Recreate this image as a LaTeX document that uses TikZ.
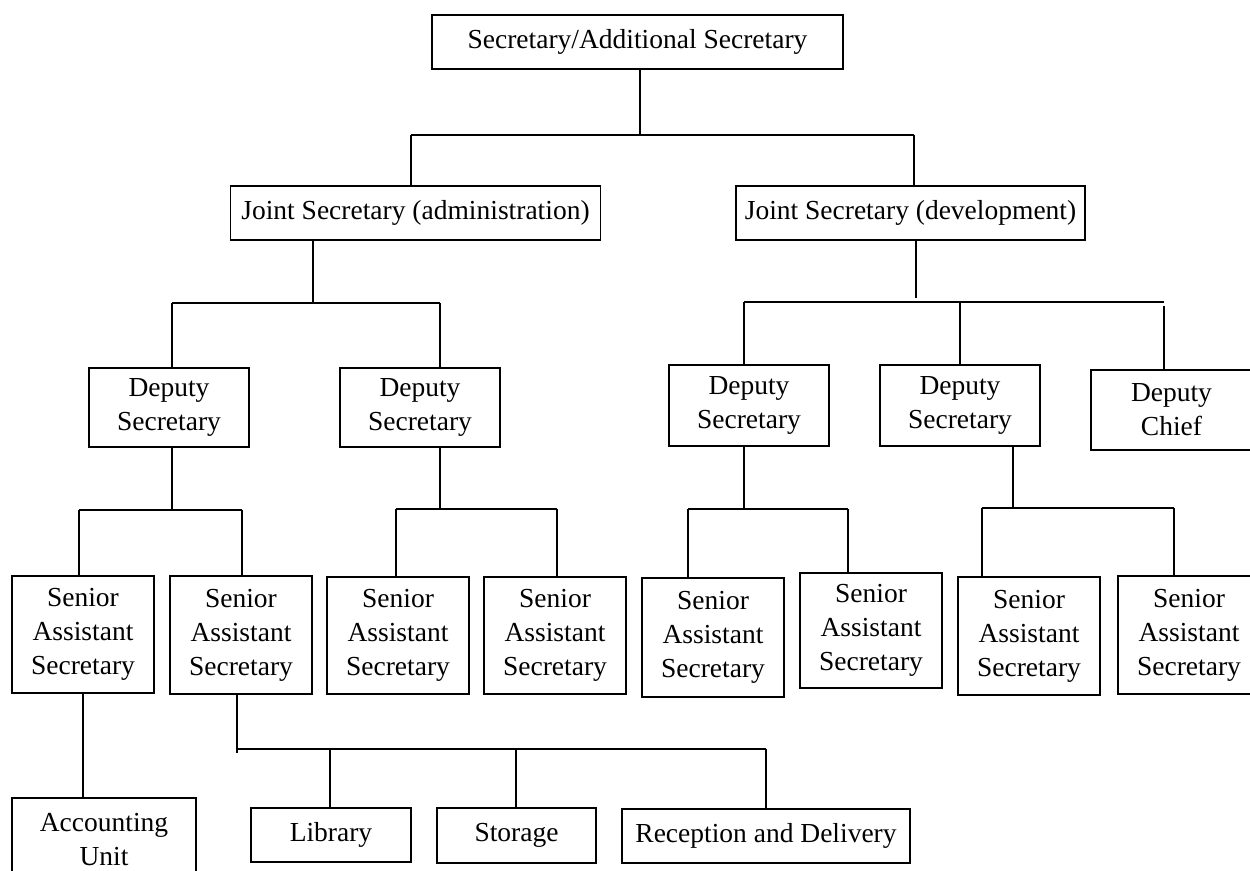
\documentclass[tikz,border=0pt]{standalone}
\usepackage{fontspec}
\setmainfont{Liberation Serif}
\begin{document}
\begin{tikzpicture}[x=1pt,y=-1pt,
  box/.style={draw, line width=1.8pt, inner sep=0pt, align=center,
    font={\fontsize{27.5}{34}\selectfont}},
  link/.style={line width=1.6pt}]
\useasboundingbox (0,0) rectangle (1250,870);
\clip (0,0) rectangle (1250,870);

% ---- boxes ----
\node[box, minimum width=411, minimum height=54] (top) at (637.5,42) {Secretary/Additional Secretary};
\node[box, minimum width=370, minimum height=54] (admin) at (415.5,213) {Joint Secretary (administration)};
\node[box, minimum width=349, minimum height=54] (dev) at (910.5,213) {Joint Secretary (development)};

\node[box, minimum width=160, minimum height=79] (dep1) at (169,407.5) {Deputy\\Secretary};
\node[box, minimum width=160, minimum height=79] (dep2) at (420,407.5) {Deputy\\Secretary};
\node[box, minimum width=160, minimum height=81] (dep3) at (749,405.5) {Deputy\\Secretary};
\node[box, minimum width=160, minimum height=81] (dep4) at (960,405.5) {Deputy\\Secretary};
\node[box, minimum width=161, minimum height=80] (chief) at (1171.5,410) {Deputy\\Chief};

\node[box, minimum width=142, minimum height=117] (sas1) at (83,634.5) {Senior\\Assistant\\Secretary};
\node[box, minimum width=142, minimum height=118] (sas2) at (241,635) {Senior\\Assistant\\Secretary};
\node[box, minimum width=142, minimum height=117] (sas3) at (398,635.5) {Senior\\Assistant\\Secretary};
\node[box, minimum width=142, minimum height=117] (sas4) at (555,635.5) {Senior\\Assistant\\Secretary};
\node[box, minimum width=142, minimum height=119] (sas5) at (713,637.5) {Senior\\Assistant\\Secretary};
\node[box, minimum width=142, minimum height=115] (sas6) at (871,630.5) {Senior\\Assistant\\Secretary};
\node[box, minimum width=142, minimum height=118] (sas7) at (1029,636) {Senior\\Assistant\\Secretary};
\node[box, minimum width=142, minimum height=118] (sas8) at (1189,635) {Senior\\Assistant\\Secretary};

\node[box, minimum width=184, minimum height=84] (acc) at (104,840) {Accounting\\Unit};
\node[box, minimum width=160, minimum height=54] (lib) at (331,835) {Library};
\node[box, minimum width=159, minimum height=55] (sto) at (516.5,835.5) {Storage};
\node[box, minimum width=288, minimum height=54] (rec) at (766,836) {Reception and Delivery};

% ---- junction points ----
\coordinate (jTop) at (640,135);
\coordinate (jTopL) at (411,135);
\coordinate (jTopR) at (914,135);

\coordinate (jAd) at (313,303);
\coordinate (jAdL) at (172,303);
\coordinate (jAdR) at (440,303);

\coordinate (jDv) at (916,298);
\coordinate (jDvL) at (744,302);
\coordinate (jDvM) at (960,302);
\coordinate (jDvR) at (1164,302);

\coordinate (jD1) at (172,510);
\coordinate (jD1L) at (79,510);
\coordinate (jD1R) at (242,510);

\coordinate (jD2) at (440,509);
\coordinate (jD2L) at (396,509);
\coordinate (jD2R) at (557,509);

\coordinate (jD3) at (744,509);
\coordinate (jD3L) at (688,509);
\coordinate (jD3R) at (848,509);

\coordinate (jD4) at (1013,508);
\coordinate (jD4L) at (982,508);
\coordinate (jD4R) at (1174,508);

\coordinate (jS2) at (237,749);
\coordinate (jS2end) at (237,753);
\coordinate (jLib) at (330,749);
\coordinate (jSto) at (516,749);
\coordinate (jRec) at (766,749);

% ---- connectors ----
\draw[link] (jTop |- top.south) -- (jTop);
\draw[link] (jTopL) -- (jTopR);
\draw[link] (jTopL) -- (jTopL |- admin.north);
\draw[link] (jTopR) -- (jTopR |- dev.north);

\draw[link] (jAd |- admin.south) -- (jAd);
\draw[link] (jAdL) -- (jAdR);
\draw[link] (jAdL) -- (jAdL |- dep1.north);
\draw[link] (jAdR) -- (jAdR |- dep2.north);

\draw[link] (jDv |- dev.south) -- (jDv);
\draw[link] (jDvL) -- (jDvR);
\draw[link] (jDvL) -- (jDvL |- dep3.north);
\draw[link] (jDvM) -- (jDvM |- dep4.north);
\draw[link] ([yshift=-4pt]jDvR) -- (jDvR |- chief.north);

\draw[link] (jD1 |- dep1.south) -- (jD1);
\draw[link] (jD1L) -- (jD1R);
\draw[link] (jD1L) -- (jD1L |- sas1.north);
\draw[link] (jD1R) -- (jD1R |- sas2.north);

\draw[link] (jD2 |- dep2.south) -- (jD2);
\draw[link] (jD2L) -- (jD2R);
\draw[link] (jD2L) -- (jD2L |- sas3.north);
\draw[link] (jD2R) -- (jD2R |- sas4.north);

\draw[link] (jD3 |- dep3.south) -- (jD3);
\draw[link] (jD3L) -- (jD3R);
\draw[link] (jD3L) -- (jD3L |- sas5.north);
\draw[link] (jD3R) -- (jD3R |- sas6.north);

\draw[link] (jD4 |- dep4.south) -- (jD4);
\draw[link] (jD4L) -- (jD4R);
\draw[link] (jD4L) -- (jD4L |- sas7.north);
\draw[link] (jD4R) -- (jD4R |- sas8.north);

\draw[link] (83,0 |- sas1.south) -- (83,0 |- acc.north);

\draw[link] (jS2 |- sas2.south) -- (jS2end);
\draw[link] (jS2) -- (jRec);
\draw[link] (jLib) -- (jLib |- lib.north);
\draw[link] (jSto) -- (jSto |- sto.north);
\draw[link] (jRec) -- (jRec |- rec.north);
\end{tikzpicture}
\end{document}
